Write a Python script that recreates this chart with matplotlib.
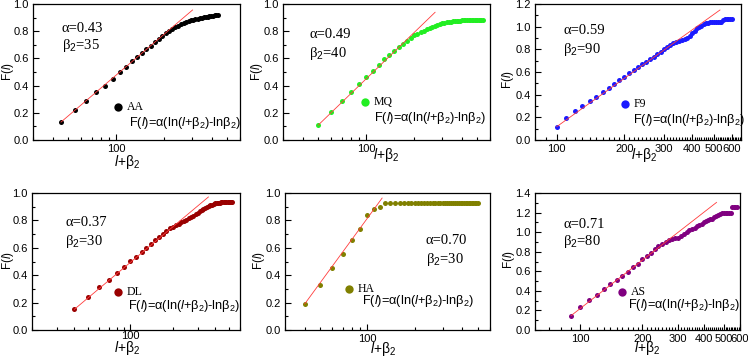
import matplotlib
matplotlib.use("Agg")
import matplotlib.pyplot as plt
from matplotlib.ticker import FixedLocator, NullFormatter, FixedFormatter, MultipleLocator

plt.rcParams['font.family'] = ['Liberation Sans', 'DejaVu Sans']
plt.rcParams['mathtext.fontset'] = 'custom'
plt.rcParams['mathtext.rm'] = 'Liberation Sans'
plt.rcParams['mathtext.it'] = 'Liberation Sans:italic'

# ---------------- data ----------------
names = ["AA", "MQ", "F9", "DL", "HA", "AS"]
alphas = ["0.43", "0.49", "0.59", "0.37", "0.70", "0.71"]
betas = ["35", "40", "90", "30", "30", "80"]

x_AA = list(range(45, 445, 10))
F_AA = [0.132, 0.22, 0.29, 0.353, 0.40, 0.45, 0.497, 0.54, 0.578, 0.61,
        0.642, 0.669, 0.694, 0.718, 0.743, 0.765, 0.785, 0.80, 0.815, 0.828,
        0.84, 0.85, 0.858, 0.866, 0.873, 0.879, 0.884, 0.889, 0.893, 0.897,
        0.90, 0.903, 0.906, 0.908, 0.91, 0.912, 0.914, 0.916, 0.918, 0.92]
fitx_AA = [45, 302]
fity_AA = [0.132, 0.956]

x_MQ = list(range(50, 550, 10))
F_MQ = [0.11, 0.203, 0.287, 0.355, 0.41, 0.463, 0.51, 0.554, 0.593, 0.625,
        0.654, 0.684, 0.708, 0.73, 0.752, 0.77, 0.782, 0.793, 0.804, 0.815,
        0.826, 0.833, 0.84, 0.846, 0.852, 0.857, 0.861, 0.865, 0.868, 0.87,
        0.872, 0.874, 0.876, 0.877, 0.878, 0.879, 0.88, 0.881, 0.881, 0.882,
        0.882, 0.882, 0.882, 0.882, 0.882, 0.882, 0.882, 0.882, 0.882, 0.882]
fitx_MQ = [50, 271]
fity_MQ = [0.11, 0.939]

x_F9 = list(range(100, 610, 10))
F_F9 = [0.118, 0.197, 0.256, 0.30, 0.341, 0.382, 0.42, 0.459, 0.494, 0.529,
        0.559, 0.588, 0.615, 0.641, 0.668, 0.688, 0.715, 0.735, 0.756, 0.779,
        0.80, 0.82, 0.84, 0.855, 0.865, 0.875, 0.885, 0.895, 0.90, 0.92,
        0.945, 0.965, 0.985, 1.0, 1.01, 1.02, 1.03, 1.035, 1.04, 1.04,
        1.04, 1.04, 1.045, 1.045, 1.045, 1.06, 1.065, 1.065, 1.065, 1.065, 1.065]
fitx_F9 = [100, 532]
fity_F9 = [0.118, 1.147]

x_DL = list(range(40, 540, 10))
F_DL = [0.151, 0.241, 0.312, 0.368, 0.417, 0.463, 0.505, 0.534, 0.568, 0.598,
        0.627, 0.656, 0.68, 0.702, 0.724, 0.744, 0.755, 0.765, 0.776, 0.786,
        0.796, 0.805, 0.815, 0.825, 0.835, 0.845, 0.855, 0.865, 0.874, 0.882,
        0.89, 0.897, 0.904, 0.91, 0.915, 0.92, 0.924, 0.927, 0.929, 0.93,
        0.931, 0.932, 0.932, 0.933, 0.933, 0.933, 0.934, 0.934, 0.934, 0.934]
fitx_DL = [40, 358]
fity_DL = [0.151, 0.971]

x_HA = list(range(40, 510, 10))
F_HA = [0.19, 0.325, 0.45, 0.556, 0.656, 0.737, 0.837, 0.883, 0.895, 0.925,
        0.925, 0.925, 0.925, 0.925, 0.925, 0.925, 0.925, 0.925, 0.925, 0.925,
        0.925, 0.925, 0.925, 0.925, 0.925, 0.925, 0.925, 0.925, 0.925, 0.925,
        0.925, 0.925, 0.925, 0.925, 0.925, 0.925, 0.925, 0.925, 0.925, 0.925,
        0.925, 0.925, 0.925, 0.925, 0.925, 0.925, 0.925]
fitx_HA = [40, 124]
fity_HA = [0.19, 0.963]

x_AS = list(range(90, 590, 10))
F_AS = [0.147, 0.232, 0.304, 0.362, 0.417, 0.468, 0.512, 0.556, 0.597, 0.645,
        0.679, 0.724, 0.761, 0.789, 0.826, 0.857, 0.877, 0.90, 0.92, 0.93,
        0.94, 0.945, 0.96, 0.985, 1.005, 1.02, 1.03, 1.045, 1.06, 1.07,
        1.085, 1.10, 1.11, 1.12, 1.13, 1.135, 1.15, 1.165, 1.18, 1.19,
        1.195, 1.195, 1.195, 1.195, 1.195, 1.195, 1.26, 1.26, 1.26, 1.26]
fitx_AS = [90, 461]
fity_AS = [0.147, 1.304]

xs = [x_AA, x_MQ, x_F9, x_DL, x_HA, x_AS]
Fs = [F_AA, F_MQ, F_F9, F_DL, F_HA, F_AS]
fitxs = [fitx_AA, fitx_MQ, fitx_F9, fitx_DL, fitx_HA, fitx_AS]
fitys = [fity_AA, fity_MQ, fity_F9, fity_DL, fity_HA, fity_AS]

# ---------------- styling / layout ----------------
colors = ["#000000", "#22ee22", "#1a1aff", "#990000", "#808000", "#800080"]
W, H = 748, 357
rects = [(33, 4, 240, 140), (283, 4, 490, 140), (535, 4, 741, 140),
         (32, 193, 240, 330), (285, 193, 490, 330), (535, 193, 740, 330)]
xlims = [(30, 600), (30, 600), (80, 660), (20, 600), (30, 600), (60, 600)]
ylims = [1.0, 1.0, 1.2, 1.0, 1.0, 1.4]
ab_pos = [(62, 28, 62, 46), (309, 34, 309, 53), (563, 31, 563, 49),
          (65, 222, 65, 241), (426, 240, 426, 259), (563, 224, 563, 242)]
leg_pos = [(118, 107, 129, 123), (365, 102, 374, 118), (625, 104, 633, 120),
           (118, 292, 128, 306), (349, 289, 362, 301), (622, 292, 628, 305)]
ylab_pos = [(8, 72), (257, 72), (508, 80), (8, 261), (259, 261), (509, 260)]
xlab_pos = [(127, 162), (386, 155), (644, 155), (127, 348), (383, 349), (647, 348)]


def fx(x):
    return x / W


def fy(y):
    return 1 - y / H


fig = plt.figure(figsize=(W / 100, H / 100), dpi=100)

formula = r'F($\mathit{l}$)=α(ln($\mathit{l}$+β$_2$)-lnβ$_2$)'

for i in range(6):
    l, t, r, b = rects[i]
    ax = fig.add_axes([fx(l), fy(b), (r - l) / W, (b - t) / H])
    ax.set_xscale('log')
    ax.plot(fitxs[i], fitys[i], color='#ff3b3b', lw=0.6, zorder=3)
    ax.plot(xs[i], Fs[i], 'o', color=colors[i], ms=3.6, mec='none', zorder=2)
    ax.set_xlim(*xlims[i])
    ax.set_ylim(0, ylims[i])
    ax.yaxis.set_major_locator(MultipleLocator(0.2))
    ax.yaxis.set_minor_locator(MultipleLocator(0.1))
    ax.yaxis.set_major_formatter(matplotlib.ticker.FormatStrFormatter('%.1f'))
    if i in (2, 5):
        majors = [100, 200, 300, 400, 500, 600]
        ax.xaxis.set_major_locator(FixedLocator(majors))
        ax.xaxis.set_major_formatter(FixedFormatter([str(m) for m in majors]))
        lo, hi = xlims[i]
        ax.xaxis.set_minor_locator(FixedLocator([v for v in range(10, 700, 10)
                                                 if lo <= v <= hi and v not in majors]))
    else:
        ax.xaxis.set_major_locator(FixedLocator([100]))
        ax.xaxis.set_major_formatter(FixedFormatter(['100']))
        ax.xaxis.set_minor_locator(FixedLocator([20, 30, 40, 50, 60, 70, 80, 90,
                                                 200, 300, 400, 500, 600]))
    ax.xaxis.set_minor_formatter(NullFormatter())
    ax.tick_params(which='both', direction='in', labelsize=8, width=0.8)
    ax.tick_params(which='major', length=4, pad=3)
    ax.tick_params(which='minor', length=2)
    if i == 3:
        ax.tick_params(axis='x', which='major', pad=1)
    for s in ax.spines.values():
        s.set_linewidth(0.9)

    a1x, a1y, b1x, b1y = ab_pos[i]
    fig.text(fx(a1x), fy(a1y), 'α=' + alphas[i], fontsize=10.5,
             family='Liberation Serif', va='center', ha='left')
    fig.text(fx(b1x), fy(b1y), r'β$_2$=' + betas[i], fontsize=10.5,
             family='Liberation Serif', va='center', ha='left')

    mx, my, tx, ty = leg_pos[i]
    fig.lines.append(matplotlib.lines.Line2D([fx(mx)], [fy(my)], marker='o', ms=6,
                                             color=colors[i], mec='none',
                                             transform=fig.transFigure))
    fig.text(fx(mx + 9), fy(my), names[i], fontsize=8.5, family='Liberation Serif',
             va='center', ha='left')
    fig.text(fx(tx), fy(ty), formula, fontsize=9.2, va='center', ha='left')

    yx, yy = ylab_pos[i]
    fig.text(fx(yx), fy(yy), r'F($\mathit{l}$)', fontsize=8.5, rotation=90,
             va='center', ha='center')
    lx, ly = xlab_pos[i]
    fig.text(fx(lx), fy(ly), r'$\mathit{l}$+β$_2$', fontsize=10,
             va='center', ha='center')

fig.savefig('out.png', dpi=100)
